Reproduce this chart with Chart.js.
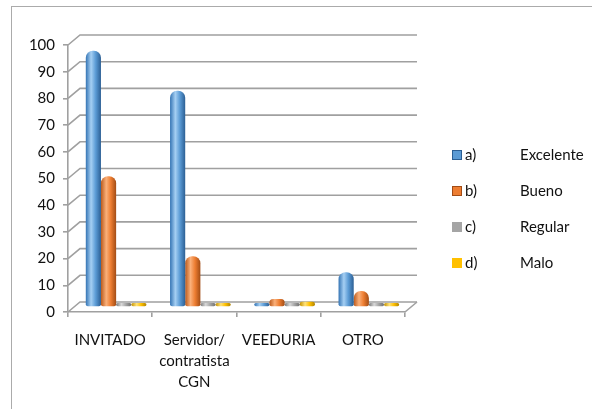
<!DOCTYPE html>
<html>
<head>
<meta charset="utf-8">
<script src="https://cdn.jsdelivr.net/npm/chart.js@4/dist/chart.umd.min.js"></script>
<style>
  html, body { margin: 0; padding: 0; background: #fff; }
  #wrap { position: relative; width: 592px; height: 409px; }
  #frame { position: absolute; left: 11px; top: 6px; right: 0; bottom: 0;
           border-left: 1px solid #ababab; border-top: 1px solid #ababab; pointer-events: none; }
  canvas { position: absolute; left: 0; top: 0; }
</style>
</head>
<body>
<div id="wrap">
  <canvas id="c" width="592" height="409"></canvas>
  <div id="frame"></div>
</div>
<script>
// ---- data ----
const categories = ['INVITADO', ['Servidor/', 'contratista', 'CGN'], 'VEEDURIA', 'OTRO'];
const seriesPrefixes = ['a)', 'b)', 'c)', 'd)'];
const seriesNames = ['Excelente', 'Bueno', 'Regular', 'Malo'];
const excelente = [96, 81, 0, 13];
const bueno = [49, 19, 3, 6];
const regular = [1, 0, 0, 0];
const malo = [1, 1, 2, 0];
const yMin = 0, yMax = 100, yStep = 10;

// ---- style ----
const DX = 12, DY = -10;
const CAT_PCT = 0.72;
const FONT = 'Lato, "Open Sans", sans-serif';
const palettes = [
  ['#3474b4', '#a5cff3', '#5b9bd5', '#2c5f94'],
  ['#bb5a1c', '#fab07a', '#ed7d31', '#a24c15'],
  ['#7a7a7a', '#d8d8d8', '#a5a5a5', '#707070'],
  ['#c49200', '#ffe27a', '#ffc000', '#b08300']
];

function cylinder(p) {
  return (ctx) => {
    const chart = ctx.chart;
    const xs = chart.scales && chart.scales.x;
    if (ctx.dataIndex == null || !xs || xs.right == null || isNaN(xs.getPixelForValue(ctx.dataIndex))) return p[2];
    const n = categories.length;
    const cw = (xs.right - xs.left) / n;
    const gw = cw * CAT_PCT;
    const bw = gw / 4;
    const cx = xs.getPixelForValue(ctx.dataIndex);
    const l = cx - gw / 2 + ctx.datasetIndex * bw;
    const g = chart.ctx.createLinearGradient(l, 0, l + bw, 0);
    g.addColorStop(0, p[0]);
    g.addColorStop(0.35, p[1]);
    g.addColorStop(0.65, p[2]);
    g.addColorStop(1, p[3]);
    return g;
  };
}

const seriesValues = [excelente, bueno, regular, malo];
const datasets = seriesValues.map((vals, i) => ({
  label: seriesPrefixes[i] + ' ' + seriesNames[i],
  data: vals,
  backgroundColor: cylinder(palettes[i]),
  borderWidth: 0,
  borderRadius: { topLeft: 7, topRight: 7, bottomLeft: 2, bottomRight: 2 },
  borderSkipped: false,
  minBarLength: 4,
  barPercentage: 1.0,
  categoryPercentage: CAT_PCT,
  clip: false
}));

const wall3d = {
  id: 'wall3d',
  beforeDatasetsDraw(chart) {
    const ctx = chart.ctx, a = chart.chartArea, y = chart.scales.y;
    ctx.save();
    ctx.strokeStyle = '#a0a0a0';
    ctx.lineWidth = 1.6;
    y.ticks.forEach(t => {
      const py = y.getPixelForValue(t.value);
      ctx.beginPath();
      ctx.moveTo(a.left, py);
      ctx.lineTo(a.left + DX, py + DY);
      ctx.lineTo(a.right + DX, py + DY);
      ctx.stroke();
    });
    ctx.beginPath();
    ctx.moveTo(a.right, a.bottom);
    ctx.lineTo(a.right + DX, a.bottom + DY);
    ctx.stroke();
    ctx.restore();
    ctx.save();
    ctx.translate(DX / 2, DY / 2);
  },
  afterDatasetsDraw(chart) {
    chart.ctx.restore();
  }
};

const sideLegend = {
  id: 'sideLegend',
  afterDraw(chart) {
    const ctx = chart.ctx;
    const x0 = 452, y0 = 155, gap = 36;
    ctx.save();
    ctx.font = '15px ' + FONT;
    ctx.textBaseline = 'middle';
    seriesNames.forEach((name, i) => {
      const yy = y0 + i * gap;
      ctx.fillStyle = palettes[i][2];
      ctx.fillRect(x0, yy - 5, 10, 10);
      ctx.strokeStyle = palettes[i][3];
      ctx.lineWidth = 1;
      if (i < 2) ctx.strokeRect(x0 + 0.5, yy - 4.5, 9, 9);
      ctx.fillStyle = '#111';
      ctx.textAlign = 'left';
      ctx.fillText(seriesPrefixes[i], x0 + 13, yy);
      ctx.fillText(name, 520, yy);
    });
    ctx.restore();
  }
};

new Chart(document.getElementById('c'), {
  type: 'bar',
  data: { labels: categories, datasets },
  options: {
    responsive: false,
    devicePixelRatio: 1,
    animation: false,
    layout: { padding: { left: 0, top: 45, right: 187, bottom: 0 } },
    plugins: { legend: { display: false }, tooltip: { enabled: false } },
    scales: {
      x: {
        grid: { offset: true, drawOnChartArea: false, tickLength: 5, color: '#a0a0a0', lineWidth: 1.6 },
        border: { display: true, color: '#a0a0a0', width: 1.6 },
        ticks: { color: '#111', font: { family: FONT, size: 15, lineHeight: 1.4 }, padding: 13, maxRotation: 0, autoSkip: false },
        afterFit(s) { s.height = 97; }
      },
      y: {
        min: yMin, max: yMax,
        grid: { drawOnChartArea: false, tickLength: 5, color: '#a0a0a0', lineWidth: 1.6 },
        border: { display: true, color: '#a0a0a0', width: 1.6 },
        ticks: { stepSize: yStep, color: '#111', font: { family: FONT, size: 15 }, padding: 8 },
        afterFit(s) { s.width = 68; }
      }
    }
  },
  plugins: [wall3d, sideLegend]
});
</script>
</body>
</html>
